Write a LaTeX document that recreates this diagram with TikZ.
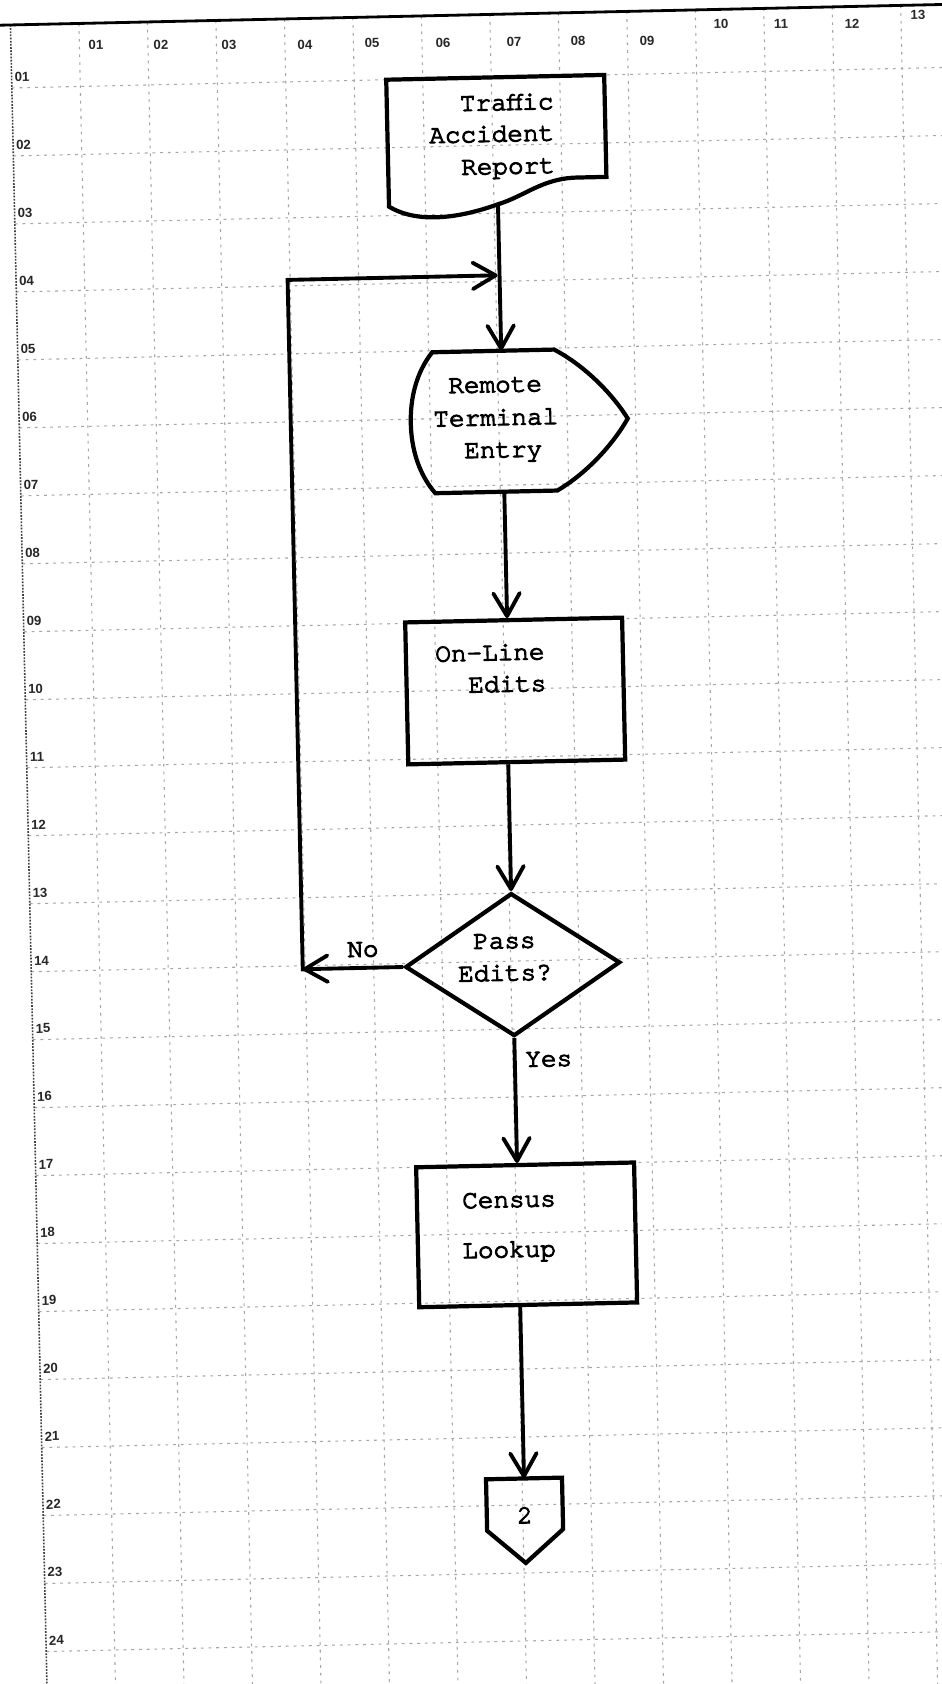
\documentclass[tikz,border=0pt]{standalone}
\usepackage{fontspec}
\newfontfamily\lab{Liberation Sans}
\newfontfamily\tw{texgyrecursor-regular}[Extension=.otf,FakeBold=4]
\usetikzlibrary{arrows.meta,shapes.geometric}
\begin{document}
\begin{tikzpicture}[x=0.02cm,y=-0.02cm,
  shp/.style={draw=black,line width=2.4pt,line join=miter},
  conn/.style={draw=black,line width=2.2pt,line join=miter},
  arr/.style={conn,-{Straight Barb[length=13pt,width=15pt,line width=2.2pt,round]}},
  txt/.style={font=\tw\fontsize{14.8}{18}\selectfont,inner sep=0pt,anchor=base west},
  txtr/.style={txt,anchor=base east},
  gridline/.style={draw=black!35,line width=0.6pt,dash pattern=on 1.6pt off 2.8pt},
  gl/.style={font=\lab\bfseries\fontsize{7.5}{9}\selectfont,inner sep=0pt,text=black!85},
]
\useasboundingbox (0,0) rectangle (942,1684);
\fill[white] (0,0) rectangle (942,1684);
\begin{scope}
\clip (0,0) rectangle (942,1684);
\begin{scope}[rotate around={1.26:(471,842)},transform shape]
% grid
\foreach \k in {1,...,13} \draw[gridline] (28.5+68.5*\k,15) -- (28.5+68.5*\k,1760);
\foreach \k in {1,...,25} \draw[gridline] (28.5,10+68*\k) -- (1000,10+68*\k);
\draw[black!75,line width=0.9pt,dash pattern=on 1pt off 0.8pt] (28.5,15) -- (28.5,1760);
\draw[black,line width=1.6pt] (-60,15) -- (1000,15);
% column labels
\foreach \t/\u/\v in {01/113.5/36.7,02/178.5/38.2,03/246.5/39.7,04/322.5/41.3,05/389.6/40.8,06/460.6/42.4,07/531.6/43,08/595.6/43.4,09/664.6/44.9,10/739/29.5,11/799/30.8,12/870/32.4,13/936/24.8}
  \node[gl] (c\t) at (\u,\v) {\t};
% row labels
\foreach \t/\k in {01/1,02/2,03/3,04/4,05/5,06/6,07/7,08/8,09/9,10/10,11/11,12/12,13/13,14/14,15/15,16/16,17/17,18/18,19/19,20/20,21/21,22/22,23/23,24/24}
  \node[gl] (r\t) at (39,10+68*\k-11) {\t};

% shapes
\node[minimum width=4.36cm,minimum height=2.54cm,inner sep=0pt] (doc) at (512,141.5) {};
\draw[shp] (403,78) -- (621,78) -- (621,180) -- (592,180)
  .. controls (557,180) and (540,197) .. (512,205)
  .. controls (470,219) and (430,222) .. (403,205) -- cycle;
\node[txtr] (t1) at (570,111) {Traffic};
\node[txtr] (t2) at (570,142.4) {Accident};
\node[txtr] (t3) at (570,174.8) {Report};

\node[minimum width=2.8cm,minimum height=2.82cm,inner sep=0pt] (rte) at (512,422) {};
\draw[shp] (443,351.5) -- (565,351.5)
  .. controls (598,370) and (624,400) .. (637,422)
  .. controls (624,444) and (598,474) .. (565,492.5)
  -- (443,492.5)
  .. controls (426,472) and (420,446) .. (420,422)
  .. controls (420,398) and (426,372) .. (443,351.5) -- cycle;
\node[txt] (t4) at (458,392.8) {Remote};
\node[txt] (t5) at (442.3,425.9) {Terminal};
\node[txt] (t6) at (472.5,458.1) {Entry};

\node[shp,minimum width=4.34cm,minimum height=2.84cm,inner sep=0pt] (onl) at (518.5,692) {};
\node[txt] (t7) at (439.1,660.9) {On-Line};
\node[txt] (t8) at (471.4,692.6) {Edits};

\node[shp,diamond,minimum width=4.3cm,minimum height=2.86cm,inner sep=0pt] (dia) at (510,965.5) {};
\node[txt] (t9) at (470.6,949) {Pass};
\node[txt] (t10) at (454.9,981.4) {Edits?};

\node[shp,minimum width=4.36cm,minimum height=2.8cm,inner sep=0pt] (cen) at (518,1236) {};
\node[txt] (t11) at (454,1208) {Census};
\node[txt] (t12) at (453,1258) {Lookup};

\node[minimum width=1.52cm,minimum height=1.69cm,inner sep=0pt] (off) at (510,1521.75) {};
\draw[shp] (472,1479.5) -- (548,1479.5) -- (548,1531) -- (510,1564) -- (472,1531) -- cycle;
\node[txt,anchor=base] (t13) at (510,1524.3) {2};

% connectors
\draw[arr] (doc.south) -- (rte.north);
\draw[arr] (rte.south) -- (rte.south |- onl.north);
\draw[arr] (dia.north |- onl.south) -- (dia.north);
\draw[arr] (dia.south) -- (dia.south |- cen.north);
\draw[arr] (off.north |- cen.south) -- (off.north);
\coordinate (noend) at (300,965.5);
\coordinate (corner) at (300,276);
\coordinate (join) at (510,276);
\draw[arr] (dia.west) -- (noend);
\draw[conn,-{Straight Barb[length=13pt,width=15pt,line width=2.2pt,round]}] ([yshift=-1.2pt]noend) -- (corner) -- (join);
\node[txt] (no) at (344.6,954.3) {No};
\node[txt] (yes) at (520.2,1068) {Yes};
\end{scope}
\end{scope}
\end{tikzpicture}
\end{document}
